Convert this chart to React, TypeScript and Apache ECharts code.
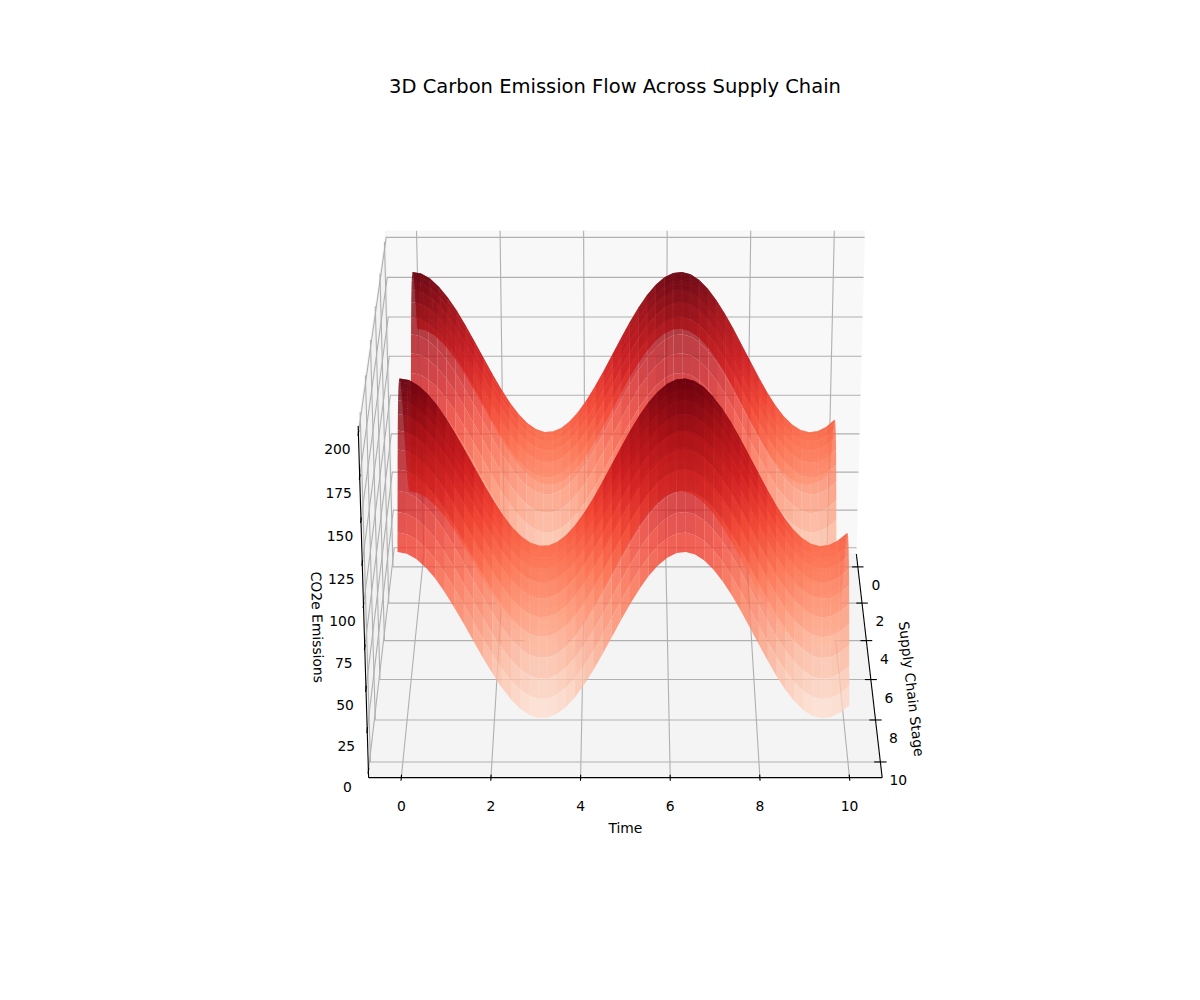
import React, { useEffect, useRef } from "react";
import * as echarts from "echarts";

const TITLE = "3D Carbon Emission Flow Across Supply Chain";
const TIME_LABEL = "Time";
const STAGE_LABEL = "Supply Chain Stage";
const EMISSION_LABEL = "CO2e Emissions";

const TIME_TICKS = [0, 2, 4, 6, 8, 10];
const STAGE_TICKS = [0, 2, 4, 6, 8, 10];
const EMISSION_TICKS = [0, 25, 50, 75, 100, 125, 150, 175, 200];

const TIME_LIMITS = [-0.729, 10.729];
const STAGE_LIMITS = [-0.729, 10.729];
const EMISSION_LIMITS = [-4.17, 204.17];

const BASE_EMISSION = 100;
// contribution to CO2e across the 50 time samples
const TIME_EFFECT = [
  50.0, 49.0, 45.9, 40.9, 34.3, 26.2, 16.9, 7.1, -3.1, -13.1,
  -22.6, -31.2, -38.5, -44.2, -48.0, -49.8, -49.6, -47.3, -43.1, -37.1,
  -29.5, -20.7, -11.0, -0.9, 9.2, 19.0, 28.0, 35.8, 42.1, 46.7,
  49.4, 50.0, 48.5, 45.0, 39.6, 32.6, 24.3, 14.9, 4.9, -5.2,
  -15.2, -24.5, -32.9, -39.8, -45.1, -48.6, -50.0, -49.3, -46.6, -42.0,
];
// contribution to CO2e across the 50 stage samples
const STAGE_EFFECT = [
  0.0, 10.1, 19.8, 28.7, 36.4, 42.6, 47.0, 49.5, 49.9, 48.2,
  44.6, 39.1, 31.9, 23.5, 14.0, 4.0, -6.2, -16.1, -25.4, -33.6,
  -40.4, -45.5, -48.8, -50.0, -49.1, -46.3, -41.4, -34.9, -26.9, -17.8,
  -8.0, 2.2, 12.2, 21.8, 30.5, 37.9, 43.7, 47.7, 49.8, 49.7,
  47.6, 43.6, 37.7, 30.3, 21.5, 12.0, 1.8, -8.3, -18.1, -27.2,
];
const REDS = [
  [255, 245, 240], [254, 224, 210], [252, 187, 161], [252, 146, 114], [251, 106, 74],
  [239, 59, 44], [203, 24, 29], [165, 15, 21], [103, 0, 13],
];

const FONT = "DejaVu Sans";
const ELEV = (25 * Math.PI) / 180;
const BOX = [1.1906, 1.1906, 0.893];
const DIST = 10;
const SCALE = 770 / 0.185;
const CX = 625.4;
const CY = 494.6;

function norm(v: number, lim: number[]) {
  return (v - lim[0]) / (lim[1] - lim[0]);
}
function view(x: number, y: number, z: number) {
  const X = (norm(x, TIME_LIMITS) - 0.5) * BOX[0];
  const Y = (norm(y, STAGE_LIMITS) - 0.5) * BOX[1];
  const Z = (norm(z, EMISSION_LIMITS) - 0.5) * BOX[2];
  const up = Z * Math.cos(ELEV) - Y * Math.sin(ELEV);
  const toward = Y * Math.cos(ELEV) + Z * Math.sin(ELEV);
  return { X, up, toward };
}
function project(x: number, y: number, z: number): number[] {
  const v = view(x, y, z);
  const d = DIST - v.toward;
  return [CX + (v.X / d) * SCALE, CY - (v.up / d) * SCALE];
}
function redsColor(t: number, alpha: number) {
  const p = Math.max(0, Math.min(1, t)) * (REDS.length - 1);
  const k = Math.min(REDS.length - 2, Math.floor(p));
  const f = p - k;
  const c = REDS[k].map((a, n) => Math.round(a + (REDS[k + 1][n] - a) * f));
  return `rgba(${c[0]},${c[1]},${c[2]},${alpha})`;
}

const N = TIME_EFFECT.length;
const M = STAGE_EFFECT.length;
const timeAt = (i: number) => (i * 10) / (N - 1);
const stageAt = (j: number) => (j * 10) / (M - 1);
const emission = (i: number, j: number) => BASE_EMISSION + TIME_EFFECT[i] + STAGE_EFFECT[j];

function buildFacets() {
  const out: number[][] = [];
  for (let i = 0; i < N - 1; i++) {
    for (let j = 0; j < M - 1; j++) {
      const zs = [emission(i, j), emission(i + 1, j), emission(i + 1, j + 1), emission(i, j + 1)];
      const avg = (zs[0] + zs[1] + zs[2] + zs[3]) / 4;
      const depth =
        (view(timeAt(i), stageAt(j), zs[0]).toward +
          view(timeAt(i + 1), stageAt(j), zs[1]).toward +
          view(timeAt(i + 1), stageAt(j + 1), zs[2]).toward +
          view(timeAt(i), stageAt(j + 1), zs[3]).toward) / 4;
      out.push([i, j, avg, depth]);
    }
  }
  out.sort((a, b) => a[3] - b[3]);
  return out;
}

function buildFrame() {
  const [x0, x1] = TIME_LIMITS;
  const [y0, y1] = STAGE_LIMITS;
  const [z0, z1] = EMISSION_LIMITS;
  const items: any[] = [];
  const pane = (pts: number[][], fill: string) =>
    items.push({ type: "polygon", shape: { points: pts.map((p) => project(p[0], p[1], p[2])) }, style: { fill, stroke: fill, lineWidth: 0.5 } });
  const line = (pts: number[][], stroke: string) =>
    items.push({ type: "polyline", shape: { points: pts.map((p) => project(p[0], p[1], p[2])) }, style: { fill: "none", stroke, lineWidth: 1.11 } });

  pane([[x0, y0, z0], [x1, y0, z0], [x1, y0, z1], [x0, y0, z1]], "#f8f8f8");
  pane([[x0, y0, z0], [x1, y0, z0], [x1, y1, z0], [x0, y1, z0]], "#f4f4f4");
  pane([[x0, y0, z0], [x0, y1, z0], [x0, y1, z1], [x0, y0, z1]], "#f2f2f2");

  const GRID = "#b0b0b0";
  TIME_TICKS.forEach((t) => line([[t, y1, z0], [t, y0, z0], [t, y0, z1]], GRID));
  STAGE_TICKS.forEach((s) => line([[x1, s, z0], [x0, s, z0], [x0, s, z1]], GRID));
  EMISSION_TICKS.forEach((e) => line([[x0, y1, e], [x0, y0, e], [x1, y0, e]], GRID));

  const INK = "#000000";
  const TICK = 0.14;
  line([[x0, y1, z0], [x1, y1, z0]], INK);
  line([[x1, y0, z0], [x1, y1, z0]], INK);
  line([[x0, y1, z0], [x0, y1, z1]], INK);
  TIME_TICKS.forEach((t) => line([[t, y1 - TICK, z0], [t, y1 + TICK, z0]], INK));
  STAGE_TICKS.forEach((s) => line([[x1 - TICK, s, z0], [x1 + TICK, s, z0]], INK));
  EMISSION_TICKS.forEach((e) => line([[x0, y1 - TICK, e], [x0, y1 + TICK, e]], INK));
  return items;
}

function buildTexts() {
  const [x0, x1] = TIME_LIMITS;
  const [, y1] = STAGE_LIMITS;
  const [z0, z1] = EMISSION_LIMITS;
  const items: any[] = [];
  const text = (s: string, p: number[], dx: number, dy: number, rotDeg = 0) =>
    items.push({
      type: "text",
      x: p[0] + dx,
      y: p[1] + dy,
      rotation: (rotDeg * Math.PI) / 180,
      style: { text: s, fontFamily: FONT, fontSize: 13.89, fill: "#000", align: "center", verticalAlign: "middle" },
    });
  TIME_TICKS.forEach((t) => text(String(t), project(t, y1, z0), 0, 28));
  STAGE_TICKS.forEach((s) => text(String(s), project(x1, s, z0), 18, 18));
  EMISSION_TICKS.forEach((e) => text(String(e), project(x0, y1, e), -21, 16));
  text(TIME_LABEL, project((x0 + x1) / 2, y1, z0), 0, 50);
  text(STAGE_LABEL, project(x1, (STAGE_LIMITS[0] + y1) / 2, z0), 43, 29, -83.4);
  text(EMISSION_LABEL, project(x0, y1, (z0 + z1) / 2), -46, 22, -88.4);
  return items;
}

export default function App() {
  const ref = useRef<HTMLDivElement>(null);
  useEffect(() => {
    const chart = echarts.init(ref.current!, undefined, { renderer: "svg" });
    const facets = buildFacets();
    const frame = buildFrame();
    const texts = buildTexts();
    const avgs = facets.map((f) => f[2]);
    const lo = Math.min(...avgs);
    const hi = Math.max(...avgs);
    chart.setOption({
      animation: false,
      backgroundColor: "#ffffff",
      title: {
        text: TITLE,
        left: 610,
        top: 71,
        textAlign: "center",
        textStyle: { fontFamily: FONT, fontSize: 19.5, fontWeight: "normal", color: "#000" },
      },
      series: [
        {
          type: "custom",
          coordinateSystem: "none",
          silent: true,
          z: 1,
          data: frame.map((_, i) => i),
          renderItem: (params: any) => frame[params.dataIndex],
        },
        {
          type: "custom",
          coordinateSystem: "none",
          silent: true,
          z: 2,
          data: facets,
          renderItem: (params: any) => {
            const [i, j, avg] = facets[params.dataIndex];
            const corners = [[i, j], [i + 1, j], [i + 1, j + 1], [i, j + 1]];
            return {
              type: "polygon",
              shape: { points: corners.map(([a, b]) => project(timeAt(a), stageAt(b), emission(a, b))) },
              style: { fill: redsColor((avg - lo) / (hi - lo), 0.8) },
            };
          },
        },
        {
          type: "custom",
          coordinateSystem: "none",
          silent: true,
          z: 3,
          data: texts.map((_, i) => i),
          renderItem: (params: any) => texts[params.dataIndex],
        },
      ],
    });
    return () => chart.dispose();
  }, []);
  return <div ref={ref} style={{ position: "fixed", left: 0, top: 0, width: 1200, height: 1000 }} />;
}
